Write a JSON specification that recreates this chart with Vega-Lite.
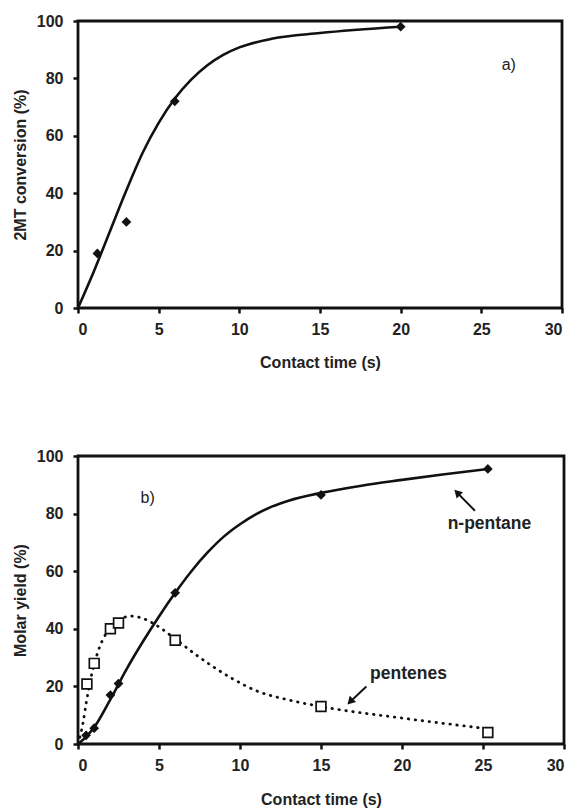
{
  "$schema": "https://vega.github.io/schema/vega-lite/v6.json",
  "background": "white",
  "padding": {"left": 10, "top": 11, "right": 8, "bottom": 2},
  "spacing": 74,
  "config": {
    "view": {"stroke": "#111", "strokeWidth": 2.8},
    "font": "Liberation Sans",
    "axis": {
      "grid": false, "domain": false, "ticks": true, "tickColor": "#111", "tickWidth": 2.5, "tickSize": 5,
      "labelFont": "Liberation Sans", "labelFontWeight": "bold", "labelFontSize": 16, "labelColor": "#222",
      "titleFont": "Liberation Sans", "titleFontWeight": "bold", "titleFontSize": 16, "titleColor": "#222"
    }
  },
  "datasets": {
    "pts_a": [
      {"t": 1.2, "v": 19}, {"t": 3, "v": 30}, {"t": 6, "v": 72}, {"t": 20, "v": 98}
    ],
    "curve_a": [
      {"t": 0, "v": 0}, {"t": 1, "v": 13}, {"t": 2, "v": 27}, {"t": 3, "v": 41}, {"t": 4, "v": 54},
      {"t": 5, "v": 64.5}, {"t": 6, "v": 73}, {"t": 7, "v": 79.5}, {"t": 8, "v": 84.5}, {"t": 9, "v": 88.2},
      {"t": 10, "v": 90.8}, {"t": 12, "v": 93.8}, {"t": 15, "v": 95.8}, {"t": 20, "v": 98}
    ],
    "pts_b": [
      {"series": "n-pentane", "t": 0.5, "v": 3}, {"series": "n-pentane", "t": 1, "v": 5.5},
      {"series": "n-pentane", "t": 2, "v": 17}, {"series": "n-pentane", "t": 2.5, "v": 21},
      {"series": "n-pentane", "t": 6, "v": 52.5}, {"series": "n-pentane", "t": 15, "v": 86.5},
      {"series": "n-pentane", "t": 25.3, "v": 95.5},
      {"series": "pentenes", "t": 0.55, "v": 20.8}, {"series": "pentenes", "t": 1, "v": 28},
      {"series": "pentenes", "t": 2, "v": 40}, {"series": "pentenes", "t": 2.5, "v": 42},
      {"series": "pentenes", "t": 6, "v": 36}, {"series": "pentenes", "t": 15, "v": 13},
      {"series": "pentenes", "t": 25.3, "v": 4}
    ],
    "curve_np": [
      {"t": 0, "v": 0}, {"t": 0.5, "v": 2.5}, {"t": 1, "v": 5.8}, {"t": 2, "v": 15.5}, {"t": 3, "v": 26},
      {"t": 4, "v": 35.5}, {"t": 5, "v": 44.3}, {"t": 6, "v": 52.5}, {"t": 7, "v": 60},
      {"t": 8, "v": 66.5}, {"t": 9, "v": 72}, {"t": 10, "v": 76.3}, {"t": 11, "v": 79.8}, {"t": 12, "v": 82.5},
      {"t": 13, "v": 84.5}, {"t": 15, "v": 87.2}, {"t": 17.5, "v": 89.7}, {"t": 20, "v": 91.7},
      {"t": 22.5, "v": 93.6}, {"t": 25.3, "v": 95.5}
    ],
    "curve_pe": [
      {"t": 0, "v": 0}, {"t": 0.3, "v": 7}, {"t": 0.5, "v": 14}, {"t": 0.8, "v": 23}, {"t": 1.2, "v": 31.5},
      {"t": 1.8, "v": 39}, {"t": 2.5, "v": 43}, {"t": 3.3, "v": 44.4}, {"t": 4.1, "v": 43.4},
      {"t": 4.9, "v": 41}, {"t": 6, "v": 36.5}, {"t": 7.4, "v": 30.5}, {"t": 9.5, "v": 22.8},
      {"t": 11, "v": 18.5}, {"t": 13, "v": 15.3}, {"t": 15, "v": 13}, {"t": 20, "v": 9}, {"t": 25, "v": 5.5}
    ],
    "arrows": [
      {"name": "n-pentane", "t1": 24.5, "v1": 81, "t2": 23.4, "v2": 87.3, "ang": 315},
      {"name": "pentenes", "t1": 17.8, "v1": 20, "t2": 16.8, "v2": 14.7, "ang": 225}
    ]
  },
  "vconcat": [
    {
      "width": 484, "height": 287,
      "layer": [
        {
          "data": {"name": "curve_a"},
          "mark": {"type": "line", "color": "#111", "strokeWidth": 2.6, "interpolate": "monotone"},
          "encoding": {
            "x": {"field": "t", "type": "quantitative", "scale": {"domain": [0, 30]},
                  "axis": {"values": [0, 5, 10, 15, 20, 25, 30], "title": "Contact time (s)", "labelPadding": 8, "titlePadding": 17}},
            "y": {"field": "v", "type": "quantitative", "scale": {"domain": [0, 100]},
                  "axis": {"values": [0, 20, 40, 60, 80, 100], "title": "2MT conversion (%)", "labelPadding": 10, "titlePadding": 8}}
          }
        },
        {
          "data": {"name": "pts_a"},
          "mark": {"type": "point", "shape": "diamond", "filled": true, "color": "#111", "size": 95, "opacity": 1},
          "encoding": {
            "x": {"field": "t", "type": "quantitative"},
            "y": {"field": "v", "type": "quantitative"}
          }
        },
        {
          "data": {"values": [{"txt": "a)", "t": 26.7, "v": 84.7}]},
          "mark": {"type": "text", "fontSize": 16, "font": "Liberation Sans", "color": "#222"},
          "encoding": {
            "x": {"field": "t", "type": "quantitative"},
            "y": {"field": "v", "type": "quantitative"},
            "text": {"field": "txt"}
          }
        }
      ]
    },
    {
      "width": 486, "height": 288,
      "layer": [
        {
          "data": {"name": "curve_np"},
          "mark": {"type": "line", "color": "#111", "strokeWidth": 2.6, "interpolate": "monotone"},
          "encoding": {
            "x": {"field": "t", "type": "quantitative", "scale": {"domain": [0, 30]},
                  "axis": {"values": [0, 5, 10, 15, 20, 25, 30], "title": "Contact time (s)", "labelPadding": 8, "titlePadding": 18}},
            "y": {"field": "v", "type": "quantitative", "scale": {"domain": [0, 100]},
                  "axis": {"values": [0, 20, 40, 60, 80, 100], "title": "Molar yield (%)", "labelPadding": 10, "titlePadding": 8}}
          }
        },
        {
          "data": {"name": "curve_pe"},
          "mark": {"type": "line", "color": "#111", "strokeWidth": 2.8, "strokeDash": [0.5, 6.5], "strokeCap": "round", "interpolate": "monotone"},
          "encoding": {
            "x": {"field": "t", "type": "quantitative"},
            "y": {"field": "v", "type": "quantitative"}
          }
        },
        {
          "data": {"name": "pts_b"},
          "transform": [{"filter": "datum.series === 'n-pentane'"}],
          "mark": {"type": "point", "shape": "diamond", "filled": true, "color": "#111", "size": 95, "opacity": 1},
          "encoding": {
            "x": {"field": "t", "type": "quantitative"},
            "y": {"field": "v", "type": "quantitative"}
          }
        },
        {
          "data": {"name": "pts_b"},
          "transform": [{"filter": "datum.series === 'pentenes'"}],
          "mark": {"type": "point", "shape": "square", "filled": true, "fill": "white", "stroke": "#111", "strokeWidth": 1.7, "size": 95, "opacity": 1},
          "encoding": {
            "x": {"field": "t", "type": "quantitative"},
            "y": {"field": "v", "type": "quantitative"}
          }
        },
        {
          "data": {"name": "arrows"},
          "mark": {"type": "rule", "color": "#111", "strokeWidth": 2},
          "encoding": {
            "x": {"field": "t1", "type": "quantitative"},
            "y": {"field": "v1", "type": "quantitative"},
            "x2": {"field": "t2"},
            "y2": {"field": "v2"}
          }
        },
        {
          "data": {"name": "arrows"},
          "mark": {"type": "point", "shape": "triangle-up", "filled": true, "color": "#111", "size": 80, "opacity": 1},
          "encoding": {
            "x": {"field": "t2", "type": "quantitative"},
            "y": {"field": "v2", "type": "quantitative"},
            "angle": {"field": "ang", "type": "quantitative", "scale": null}
          }
        },
        {
          "data": {"values": [{"txt": "b)", "t": 4.3, "v": 85.5}]},
          "mark": {"type": "text", "fontSize": 16, "font": "Liberation Sans", "color": "#222"},
          "encoding": {
            "x": {"field": "t", "type": "quantitative"},
            "y": {"field": "v", "type": "quantitative"},
            "text": {"field": "txt"}
          }
        },
        {
          "data": {"values": [{"txt": "n-pentane", "t": 25.4, "v": 76.5}, {"txt": "pentenes", "t": 20.4, "v": 24.3}]},
          "mark": {"type": "text", "fontSize": 17.5, "fontWeight": "bold", "font": "Liberation Sans", "color": "#222"},
          "encoding": {
            "x": {"field": "t", "type": "quantitative"},
            "y": {"field": "v", "type": "quantitative"},
            "text": {"field": "txt"}
          }
        }
      ]
    }
  ]
}
